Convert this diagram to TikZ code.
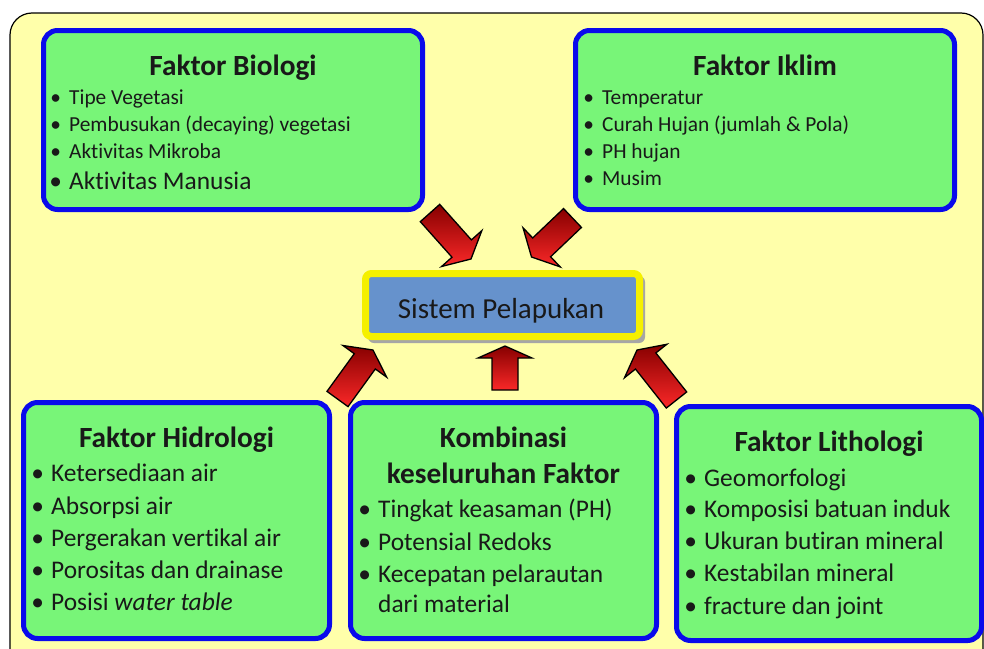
\documentclass[tikz,border=0pt]{standalone}
\usepackage{fontspec}
\setmainfont{Carlito}[Ligatures={NoCommon}]
\usetikzlibrary{calc}

\definecolor{pageyellow}{RGB}{255,255,170}
\definecolor{boxgreen}{RGB}{120,245,120}
\definecolor{boxblue}{RGB}{10,10,235}
\definecolor{sysfill}{RGB}{102,146,204}
\definecolor{sysrim}{RGB}{245,240,0}
\definecolor{inkdark}{RGB}{25,25,25}
\definecolor{arrowdark}{RGB}{135,0,0}
\definecolor{arrowlight}{RGB}{250,40,40}

\tikzset{
  factorbox/.style={draw=boxblue, line width=5pt, fill=boxgreen, rounded corners=14pt, inner sep=0pt},
  heading/.style={font=\bfseries\fontsize{29.3}{33}\selectfont, text=inkdark, anchor=base, inner sep=0pt},
  smallitem/.style={font=\fontsize{21.4}{25}\selectfont, text=inkdark, anchor=base west, inner sep=0pt},
  bigitem/.style={font=\fontsize{25.4}{30}\selectfont, text=inkdark, anchor=base west, inner sep=0pt},
  redarrow/.style={draw=black, line width=1.3pt, line join=miter, top color=arrowdark, bottom color=arrowlight},
}

% bullet hung to the left of the item text
\newcommand\bul[1]{\llap{\makebox[27pt][c]{\textbullet}}#1}

% block arrow from a tail coordinate to a tip coordinate; #3 = head length
\newcommand\blockarrow[3]{%
  \coordinate (#1neck) at ($(#2)!#3!(#1)$);
  \draw[redarrow] ($(#1)!13pt!90:(#2)$) -- ($(#1neck)!13pt!90:(#2)$)
    -- ($(#1neck)!27pt!90:(#2)$) -- (#2) -- ($(#1neck)!27pt!-90:(#2)$)
    -- ($(#1neck)!13pt!-90:(#2)$) -- ($(#1)!13pt!-90:(#2)$) -- cycle;
}

\begin{document}
\begin{tikzpicture}[x=1pt,y=-1pt]
\useasboundingbox (0,0) rectangle (984,648);
\clip (0,0) rectangle (984,648);
\fill[white] (0,0) rectangle (984,648);

% page panel
\draw[fill=pageyellow, line width=1.2pt, rounded corners=22pt] (10,13) rectangle (983,690);

% factor boxes
\node[factorbox, minimum width=379pt, minimum height=179pt] (bio) at (233,120) {};
\node[factorbox, minimum width=379pt, minimum height=179pt] (iklim) at (765,120) {};
\node[factorbox, minimum width=306pt, minimum height=236pt] (hidro) at (176.5,520.5) {};
\node[factorbox, minimum width=306pt, minimum height=236pt] (komb) at (503.5,520.5) {};
\node[factorbox, minimum width=305pt, minimum height=234pt] (litho) at (829,523.5) {};

% Faktor Biologi
\node[heading] (bioT) at (233,75) {Faktor Biologi};
\node[smallitem] (bio1) at (69,104) {\bul{Tipe Vegetasi}};
\node[smallitem] (bio2) at (69,131) {\bul{Pembusukan (decaying) vegetasi}};
\node[smallitem] (bio3) at (69,158) {\bul{Aktivitas Mikroba}};
\node[bigitem]   (bio4) at (69,189) {\bul{Aktivitas Manusia}};

% Faktor Iklim
\node[heading] (iklimT) at (765,75) {Faktor Iklim};
\node[smallitem] (ik1) at (602,104) {\bul{Temperatur}};
\node[smallitem] (ik2) at (602,131) {\bul{Curah Hujan (jumlah \& Pola)}};
\node[smallitem] (ik3) at (602,158) {\bul{PH hujan}};
\node[smallitem] (ik4) at (602,185) {\bul{Musim}};

% Faktor Hidrologi
\node[heading] (hidroT) at (176.5,447) {Faktor Hidrologi};
\node[bigitem] (hd1) at (51,481) {\bul{Ketersediaan air}};
\node[bigitem] (hd2) at (51,514) {\bul{Absorpsi air}};
\node[bigitem] (hd3) at (51,546) {\bul{Pergerakan vertikal air}};
\node[bigitem] (hd4) at (51,578) {\bul{Porositas dan drainase}};
\node[bigitem] (hd5) at (51,610) {\bul{Posisi \textit{water table}}};

% Kombinasi keseluruhan Faktor
\node[heading] (kombT1) at (503.5,447) {Kombinasi};
\node[heading] (kombT2) at (503.5,483) {keseluruhan Faktor};
\node[bigitem] (kb1) at (378,517) {\bul{Tingkat keasaman (PH)}};
\node[bigitem] (kb2) at (378,550) {\bul{Potensial Redoks}};
\node[bigitem] (kb3) at (378,582) {\bul{Kecepatan pelarautan}};
\node[bigitem] (kb4) at (378,612) {dari material};

% Faktor Lithologi
\node[heading] (lithoT) at (829,451) {Faktor Lithologi};
\node[bigitem] (lt1) at (704,486) {\bul{Geomorfologi}};
\node[bigitem] (lt2) at (704,517) {\bul{Komposisi batuan induk}};
\node[bigitem] (lt3) at (704,549) {\bul{Ukuran butiran mineral}};
\node[bigitem] (lt4) at (704,581) {\bul{Kestabilan mineral}};
\node[bigitem] (lt5) at (704,614) {\bul{fracture dan joint}};

% central system box with its shadow
\fill[black!35, rounded corners=6pt] (368,276) rectangle (645,343);
\node[draw=sysrim, line width=7pt, fill=sysfill, rounded corners=6pt,
      minimum width=274pt, minimum height=63pt, inner sep=0pt] (sys) at (502.5,305) {};
\node[font=\fontsize{29}{34}\selectfont, text=inkdark, anchor=base, inner sep=0pt] (sysT) at (501,318) {Sistem Pelapukan};

% arrows into the system box
\coordinate (a1t) at (430,213);   \coordinate (a1p) at (471,259);
\coordinate (a2t) at (572.5,218); \coordinate (a2p) at (531.5,257);
\coordinate (a3t) at (337.5,399); \coordinate (a3p) at (373,350);
\coordinate (a4t) at (505,390);   \coordinate (a4p) at (505,346);
\coordinate (a5t) at (676.5,400); \coordinate (a5p) at (637,350);
\blockarrow{a1t}{a1p}{14pt}
\blockarrow{a2t}{a2p}{14pt}
\blockarrow{a3t}{a3p}{14pt}
\blockarrow{a4t}{a4p}{12pt}
\blockarrow{a5t}{a5p}{14pt}
\end{tikzpicture}
\end{document}
